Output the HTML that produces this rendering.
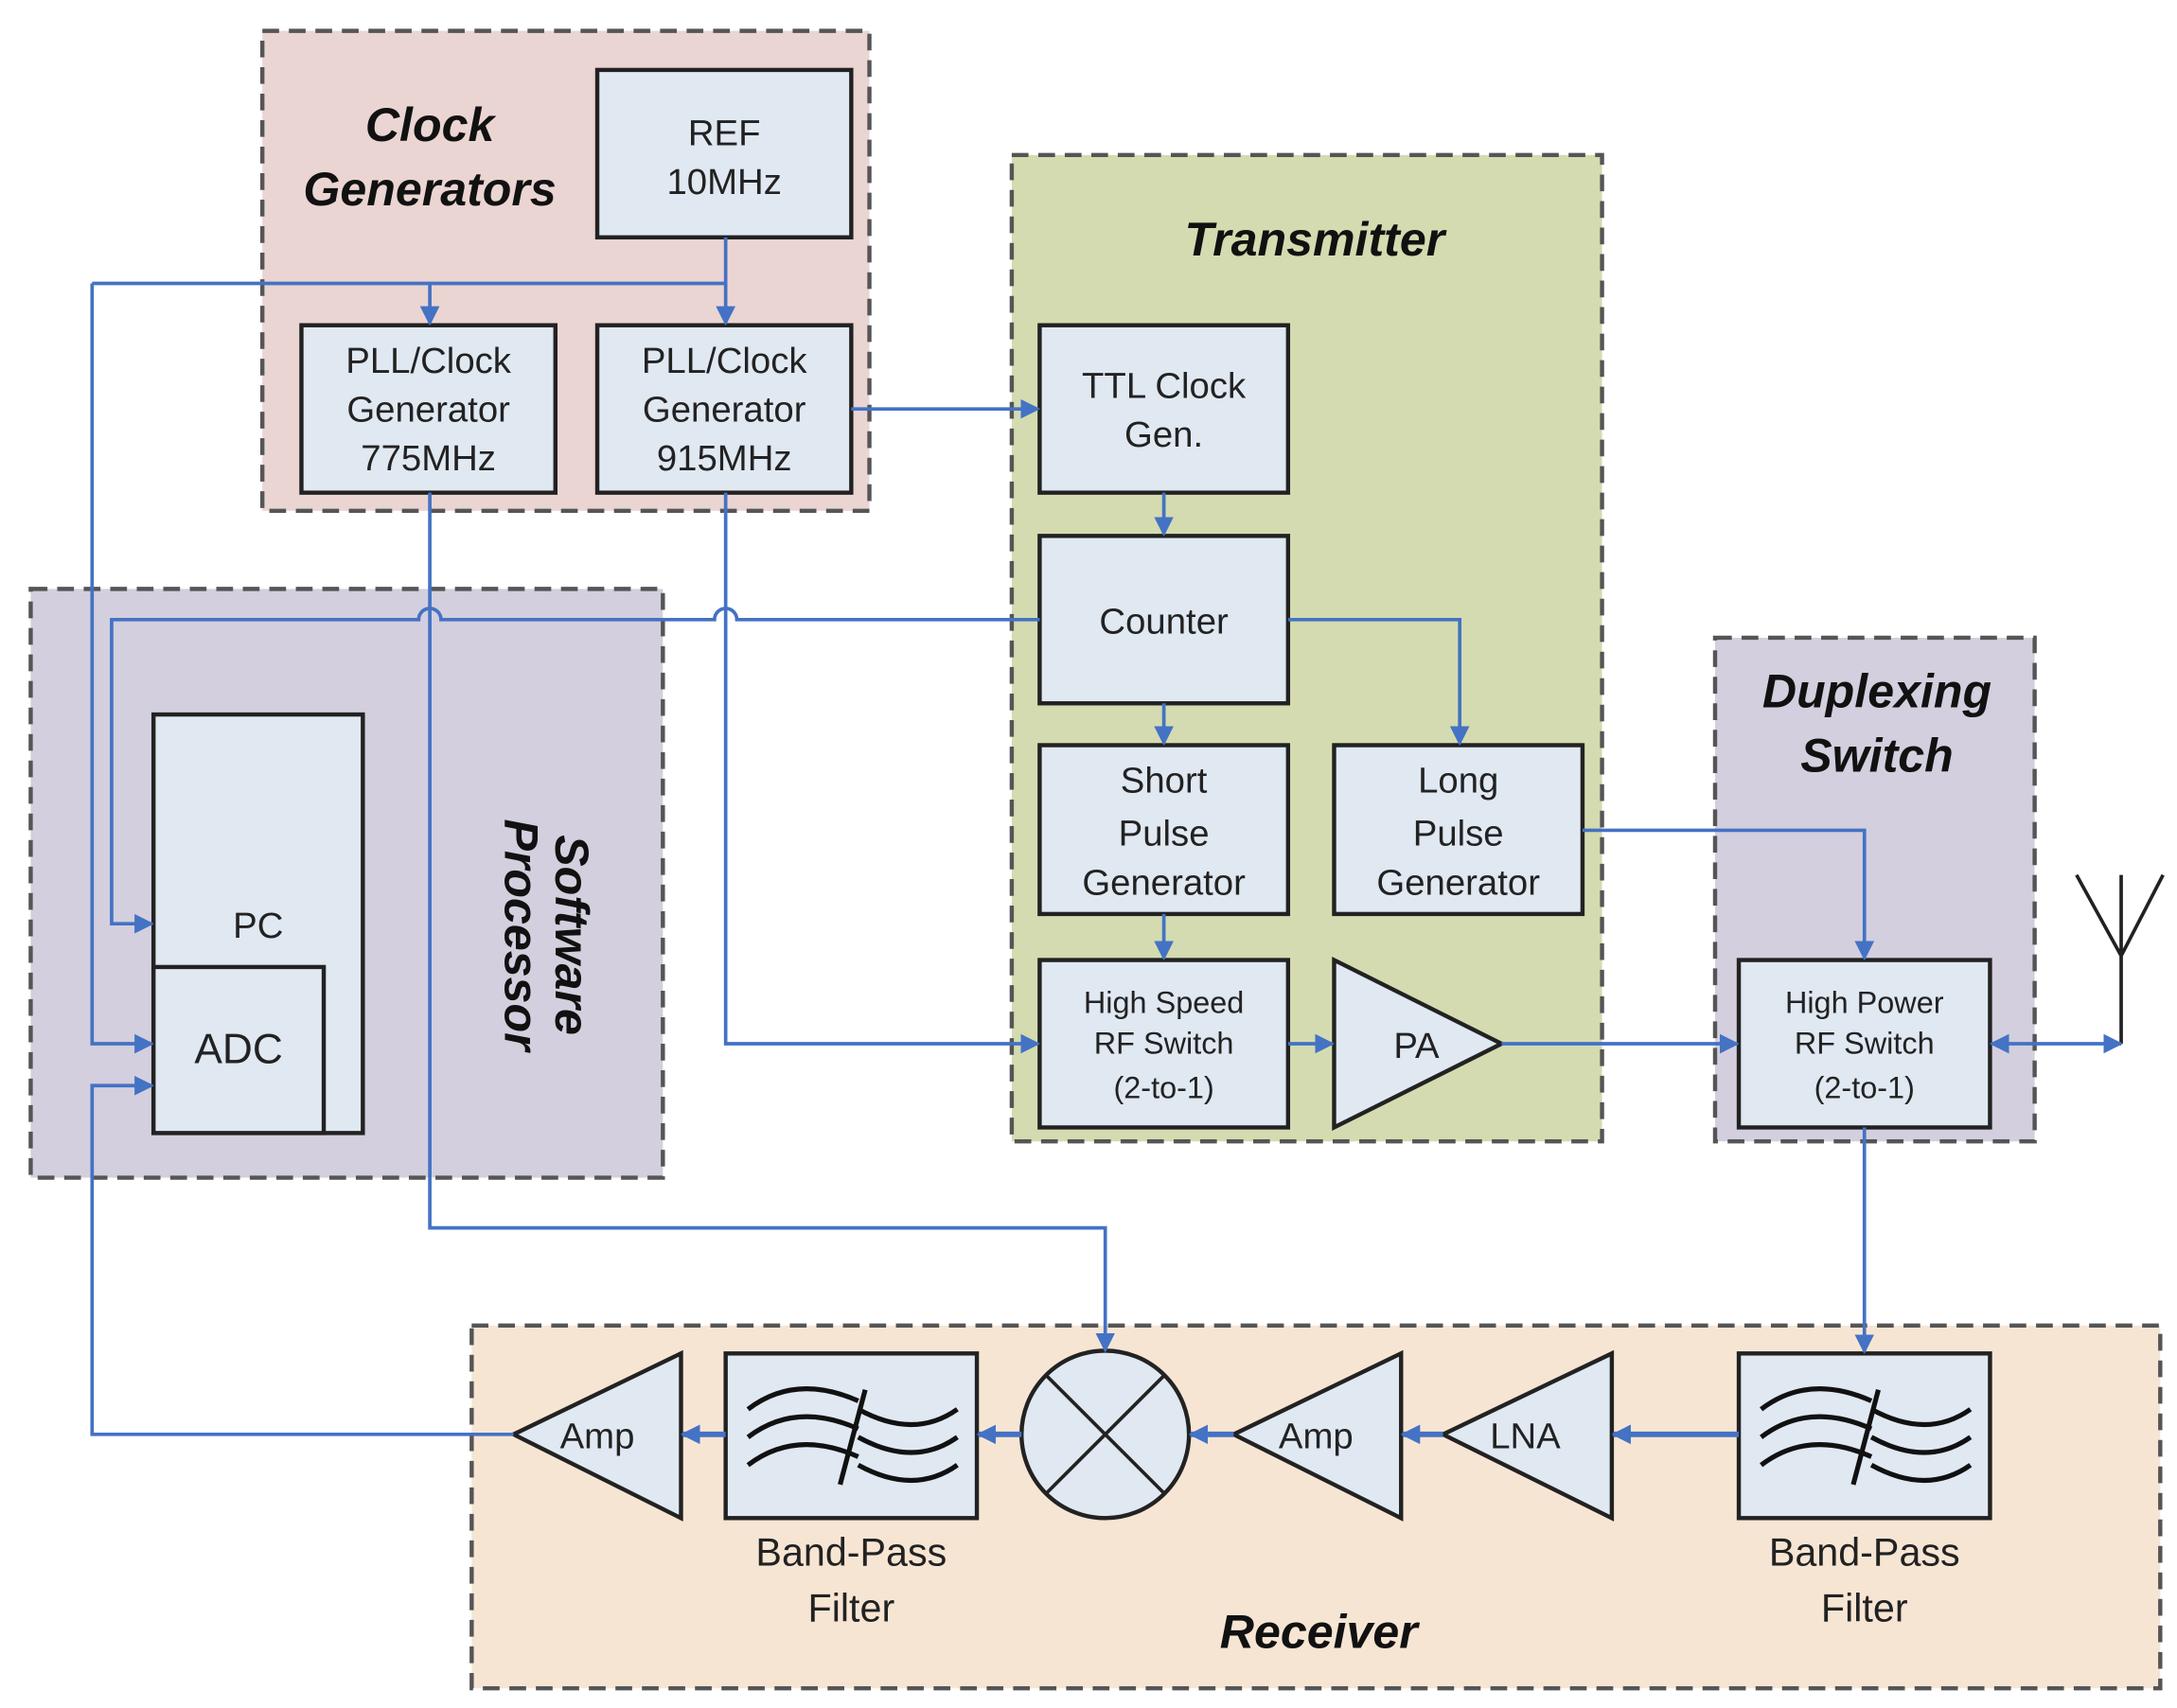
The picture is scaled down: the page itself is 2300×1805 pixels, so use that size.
<!DOCTYPE html>
<html><head><meta charset="utf-8"><style>html,body{margin:0;padding:0;background:#fff}svg{display:block}</style></head><body>
<svg width="2300" height="1805" viewBox="0 0 1560 1224" xmlns="http://www.w3.org/2000/svg" font-family="Liberation Sans, sans-serif">
<defs>
<marker id="b" viewBox="0 0 10 10" refX="9" refY="5" markerWidth="14" markerHeight="14" orient="auto-start-reverse" markerUnits="userSpaceOnUse"><path d="M0,0L10,5L0,10z" fill="#4472c4"/></marker>
<g id="flt" fill="none" stroke="#111" stroke-width="3.5">
<path d="M16,40 Q50,14 95,34"/>
<path d="M16,60 Q50,34 95,54"/>
<path d="M16,80 Q50,54 95,74"/>
<path d="M95,40 Q135,62 166,40"/>
<path d="M95,60 Q135,82 166,60"/>
<path d="M95,80 Q135,102 166,80"/>
<path d="M100,26 L82,94"/>
</g>
</defs>
<g stroke="#555" stroke-width="3" stroke-dasharray="12,7">
<rect x="188" y="22" width="435" height="344" fill="#ead5d3"/>
<rect x="22" y="422" width="453" height="422" fill="#d3cfde"/>
<rect x="725" y="111" width="423" height="707" fill="#d4dbb0"/>
<rect x="1229" y="457" width="229" height="361" fill="#d3cfde"/>
<rect x="338" y="950" width="1210" height="260" fill="#f7e5d4"/>
</g>
<g fill="#e0e8f2" stroke="#222" stroke-width="3">
<rect x="428" y="50" width="182" height="120"/>
<rect x="216" y="233" width="182" height="120"/>
<rect x="428" y="233" width="182" height="120"/>
<rect x="110" y="512" width="150" height="300"/>
<rect x="110" y="693" width="122" height="119"/>
<rect x="745" y="233" width="178" height="120"/>
<rect x="745" y="384" width="178" height="120"/>
<rect x="745" y="534" width="178" height="121"/>
<rect x="956" y="534" width="178" height="121"/>
<rect x="745" y="688" width="178" height="120"/>
<path d="M956,688 L956,808 L1076,748 Z"/>
<rect x="1246" y="688" width="180" height="120"/>
<rect x="1246" y="970" width="180" height="118"/>
<path d="M1155,970 L1155,1088 L1034,1028 Z"/>
<path d="M1004,970 L1004,1088 L884,1028 Z"/>
<ellipse cx="792" cy="1028" rx="60" ry="60"/>
<rect x="520" y="970" width="180" height="118"/>
<path d="M488,970 L488,1088 L368,1028 Z"/>
</g>
<g stroke="#222" stroke-width="2.5" fill="none">
<path d="M750,986 L834,1070 M834,986 L750,1070"/>
<path d="M1488,627 L1520,685 L1550,627 M1520,627 L1520,748"/>
</g>
<use href="#flt" x="520" y="970"/>
<use href="#flt" x="1246" y="970"/>
<g stroke="#4472c4" stroke-width="2.5" fill="none">
<path d="M520,170 V203 M66,203 H520"/>
<path d="M308,203 V232" marker-end="url(#b)"/>
<path d="M520,203 V232" marker-end="url(#b)"/>
<path d="M66,203 V748 H109" marker-end="url(#b)"/>
<path d="M610,293 H744" marker-end="url(#b)"/>
<path d="M834,353 V383" marker-end="url(#b)"/>
<path d="M745,444 H528 a8,8 0 0 0 -16,0 H316 a8,8 0 0 0 -16,0 H80 V662 H109" marker-end="url(#b)"/>
<path d="M923,444 H1046 V533" marker-end="url(#b)"/>
<path d="M834,504 V533" marker-end="url(#b)"/>
<path d="M834,655 V687" marker-end="url(#b)"/>
<path d="M520,353 V748 H744" marker-end="url(#b)"/>
<path d="M308,353 V880 H792 V968" marker-end="url(#b)"/>
<path d="M923,748 H955" marker-end="url(#b)"/>
<path d="M1076,748 H1245" marker-end="url(#b)"/>
<path d="M1134,595 H1336 V687" marker-end="url(#b)"/>
<path d="M1427,748 H1520" marker-start="url(#b)" marker-end="url(#b)"/>
<path d="M1336,808 V969" marker-end="url(#b)"/>
<path d="M1246,1028 H1156" marker-end="url(#b)" stroke-width="4"/>
<path d="M1034,1028 H1005" marker-end="url(#b)" stroke-width="4"/>
<path d="M884,1028 H853" marker-end="url(#b)" stroke-width="4"/>
<path d="M732,1028 H701" marker-end="url(#b)" stroke-width="4"/>
<path d="M520,1028 H489" marker-end="url(#b)" stroke-width="4"/>
<path d="M368,1028 H66 V778 H109" marker-end="url(#b)"/>
</g>
<g font-size="26" fill="#222" text-anchor="middle">
<text x="519" y="104">REF</text><text x="519" y="139">10MHz</text>
<text x="307" y="267">PLL/Clock</text><text x="307" y="302">Generator</text><text x="307" y="337">775MHz</text>
<text x="519" y="267">PLL/Clock</text><text x="519" y="302">Generator</text><text x="519" y="337">915MHz</text>
<text x="185" y="672">PC</text><text x="171" y="762" font-size="30">ADC</text>
<text x="834" y="285">TTL Clock</text><text x="834" y="320">Gen.</text>
<text x="834" y="454">Counter</text>
<text x="834" y="568">Short</text><text x="834" y="606">Pulse</text><text x="834" y="641">Generator</text>
<text x="1045" y="568">Long</text><text x="1045" y="606">Pulse</text><text x="1045" y="641">Generator</text>
<text x="834" y="726" font-size="22">High Speed</text><text x="834" y="755" font-size="22">RF Switch</text><text x="834" y="787" font-size="22">(2-to-1)</text>
<text x="1015" y="758">PA</text>
<text x="1336" y="726" font-size="22">High Power</text><text x="1336" y="755" font-size="22">RF Switch</text><text x="1336" y="787" font-size="22">(2-to-1)</text>
<text x="1093" y="1038">LNA</text><text x="943" y="1038">Amp</text><text x="428" y="1038">Amp</text>
<text x="610" y="1122" font-size="28">Band-Pass</text><text x="610" y="1162" font-size="28">Filter</text>
<text x="1336" y="1122" font-size="28">Band-Pass</text><text x="1336" y="1162" font-size="28">Filter</text>
</g>
<g font-size="34" font-weight="bold" font-style="italic" fill="#111" text-anchor="middle">
<text x="308" y="101">Clock</text><text x="308" y="147">Generators</text>
<text x="942" y="183">Transmitter</text>
<text x="1345" y="507">Duplexing</text><text x="1345" y="553">Switch</text>
<text x="945" y="1181">Receiver</text>
<g transform="translate(378,670) rotate(90)"><text x="0" y="-20">Software</text><text x="0" y="16">Processor</text></g>
</g>
</svg>
</body></html>
